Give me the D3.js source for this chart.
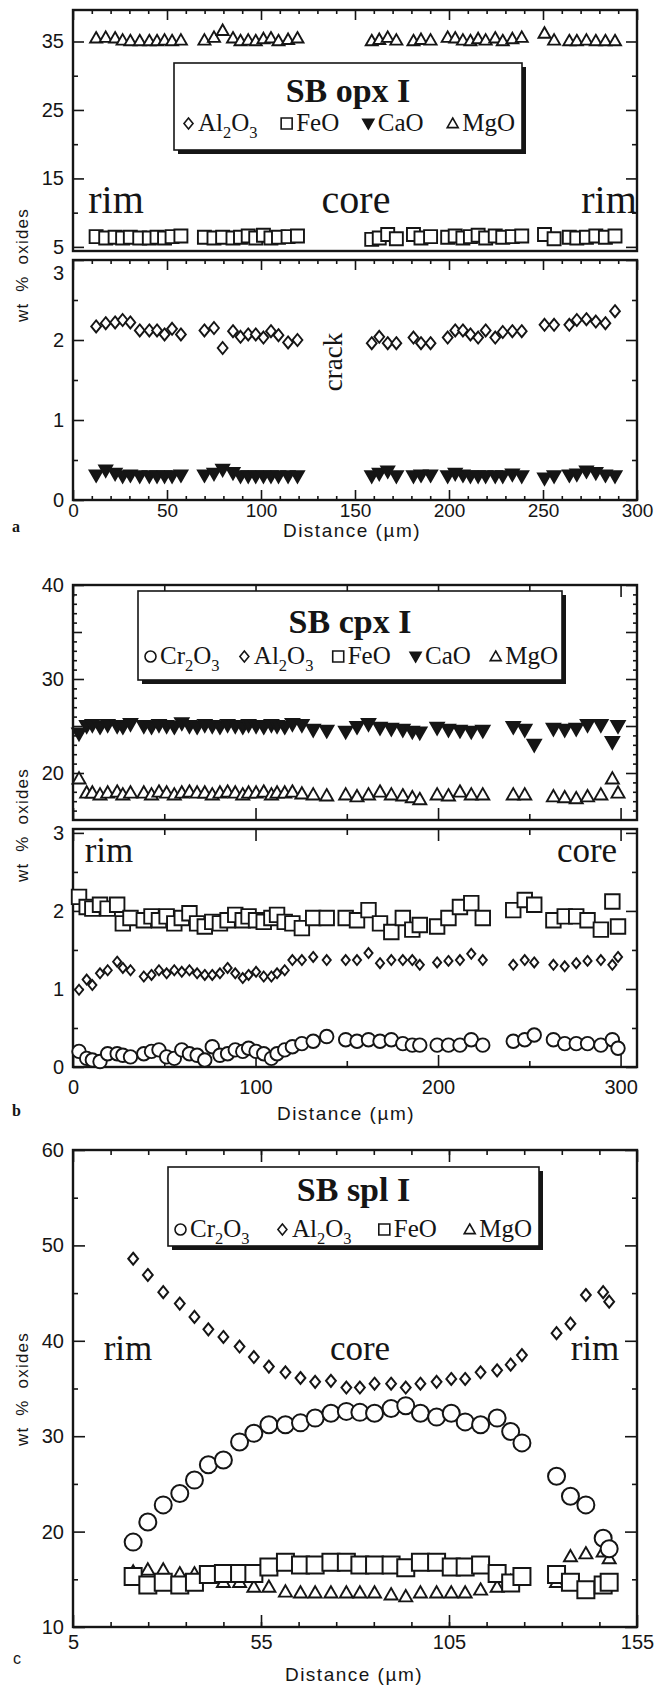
<!DOCTYPE html>
<html>
<head>
<meta charset="utf-8">
<script src="https://cdn.jsdelivr.net/npm/d3@7/dist/d3.min.js"></script>
<style>
  body { margin: 0; background: #fff; }
  svg { display: block; }
  .sans { font-family: "Liberation Sans", Arial, Helvetica, sans-serif; }
  .serif { font-family: "Liberation Serif", "Times New Roman", serif; }
</style>
</head>
<body>
<div id="chart"></div>
<script>
/* Microprobe traverses, wt % oxides vs distance: (a) SB opx I, (b) SB cpx I, (c) SB spl I */

// ---- (a) SB opx I ----
const opxDist = [12.3, 17.4, 22.4, 26.4, 30.5, 35.5, 40.6, 44.7, 48.7, 52.7, 57.4,
  69.9, 75.0, 79.6, 85.1, 89.1, 93.2, 97.2, 101.3, 105.3, 109.3, 114.4, 119.4,
  158.9, 162.9, 167.4, 172.0, 181.1, 185.1, 190.2, 199.3, 203.3, 207.4, 211.4, 215.5,
  219.5, 224.6, 228.6, 233.7, 238.7, 250.8, 255.9, 264.0, 268.0, 273.1, 278.1, 283.2, 288.3];
const opxAl2O3 = [2.17, 2.21, 2.22, 2.25, 2.22, 2.12, 2.12, 2.12, 2.07, 2.14, 2.07,
  2.12, 2.15, 1.90, 2.11, 2.04, 2.07, 2.07, 2.03, 2.11, 2.06, 1.97, 2.00,
  1.96, 2.04, 1.96, 1.96, 2.03, 1.96, 1.96, 2.03, 2.12, 2.12, 2.07, 2.03,
  2.12, 2.03, 2.10, 2.11, 2.11, 2.19, 2.19, 2.19, 2.25, 2.26, 2.23, 2.21, 2.36];
const opxFeO = [6.5, 6.3, 6.4, 6.3, 6.4, 6.3, 6.3, 6.4, 6.3, 6.5, 6.6,
  6.4, 6.3, 6.4, 6.3, 6.4, 6.6, 6.3, 6.7, 6.3, 6.4, 6.5, 6.6,
  6.1, 6.3, 6.8, 6.2, 6.8, 6.3, 6.5, 6.4, 6.6, 6.3, 6.5, 6.7,
  6.3, 6.6, 6.4, 6.5, 6.6, 6.8, 6.2, 6.4, 6.3, 6.4, 6.6, 6.4, 6.6];
const opxCaO = [0.31, 0.37, 0.33, 0.30, 0.31, 0.30, 0.30, 0.30, 0.30, 0.30, 0.31,
  0.31, 0.33, 0.38, 0.34, 0.30, 0.30, 0.30, 0.30, 0.30, 0.30, 0.30, 0.30,
  0.30, 0.33, 0.36, 0.30, 0.30, 0.31, 0.31, 0.30, 0.33, 0.31, 0.30, 0.30,
  0.30, 0.30, 0.30, 0.32, 0.30, 0.27, 0.30, 0.31, 0.32, 0.36, 0.34, 0.31, 0.30];
const opxMgO = [35.5, 35.6, 35.5, 35.2, 35.1, 35.1, 35.1, 35.1, 35.2, 35.1, 35.2,
  35.2, 35.6, 36.6, 35.5, 35.1, 35.2, 35.1, 35.4, 35.5, 35.1, 35.3, 35.5,
  35.1, 35.3, 35.6, 35.2, 35.1, 35.3, 35.2, 35.6, 35.5, 35.2, 35.1, 35.4,
  35.2, 35.5, 35.1, 35.4, 35.6, 36.2, 35.2, 35.1, 35.1, 35.2, 35.1, 35.1, 35.1];

// ---- (b) SB cpx I ----
const cpxDist = [3.3, 7.5, 10.6, 14.8, 19.0, 24.2, 27.3, 31.5, 38.8, 43.0,
  47.1, 51.3, 55.5, 59.6, 63.8, 68.0, 72.2, 76.3, 80.5, 84.7,
  88.9, 93.0, 96.2, 100.3, 104.5, 108.7, 111.8, 116.0, 120.2, 125.4,
  131.6, 139.0,
  149.4, 155.6, 161.9, 168.2, 174.4, 180.7, 185.9, 190.0,
  199.5, 205.7, 212.0, 218.2, 224.5,
  241.2, 247.5, 252.7,
  263.2, 269.4, 275.7, 281.9, 289.2, 295.5, 298.6];
const cpxCr2O3 = [0.20, 0.11, 0.09, 0.07, 0.17, 0.17, 0.15, 0.13, 0.17, 0.20,
  0.22, 0.13, 0.11, 0.22, 0.17, 0.15, 0.09, 0.26, 0.15, 0.17,
  0.22, 0.20, 0.24, 0.20, 0.17, 0.11, 0.17, 0.22, 0.26, 0.30,
  0.33, 0.39,
  0.35, 0.33, 0.35, 0.33, 0.35, 0.30, 0.28, 0.28,
  0.28, 0.28, 0.28, 0.35, 0.28,
  0.33, 0.35, 0.41,
  0.35, 0.30, 0.30, 0.30, 0.28, 0.35, 0.24];
const cpxAl2O3 = [0.99, 1.12, 1.05, 1.20, 1.24, 1.35, 1.27, 1.24, 1.16, 1.18,
  1.24, 1.20, 1.24, 1.22, 1.24, 1.20, 1.18, 1.18, 1.20, 1.27,
  1.20, 1.14, 1.18, 1.22, 1.16, 1.16, 1.20, 1.24, 1.37, 1.37,
  1.41, 1.37,
  1.37, 1.37, 1.46, 1.33, 1.37, 1.37, 1.37, 1.31,
  1.34, 1.36, 1.37, 1.45, 1.37,
  1.31, 1.37, 1.34,
  1.31, 1.29, 1.33, 1.36, 1.37, 1.31, 1.41];
const cpxFeO = [2.18, 2.05, 2.03, 2.08, 2.03, 2.08, 1.84, 1.91, 1.88, 1.93,
  1.88, 1.93, 1.84, 1.91, 1.97, 1.84, 1.80, 1.86, 1.84, 1.88,
  1.95, 1.88, 1.93, 1.88, 1.86, 1.91, 1.95, 1.86, 1.84, 1.78,
  1.91, 1.91,
  1.91, 1.88, 2.01, 1.84, 1.73, 1.91, 1.76, 1.82,
  1.80, 1.91, 2.05, 2.10, 1.91,
  2.01, 2.14, 2.08,
  1.88, 1.93, 1.93, 1.88, 1.76, 2.12, 1.80];
const cpxCaO = [24.2, 25.0, 25.1, 24.9, 25.1, 25.0, 24.9, 25.2, 25.0, 24.9,
  25.1, 25.0, 24.9, 25.3, 25.0, 24.9, 25.1, 25.0, 24.9, 25.1,
  25.0, 24.9, 25.1, 25.0, 24.9, 25.1, 25.0, 24.9, 25.2, 25.1,
  24.6, 24.5,
  24.4, 24.9, 25.2, 24.8, 24.7, 24.6, 24.4, 24.3,
  24.8, 24.6, 24.5, 24.4, 24.5,
  24.9, 24.6, 23.0,
  24.7, 24.6, 24.7, 25.1, 25.1, 23.3, 25.0];
const cpxMgO = [19.4, 17.9, 17.9, 17.7, 17.9, 18.0, 17.7, 17.9, 17.9, 17.7,
  18.0, 17.9, 17.7, 17.9, 18.0, 17.9, 17.9, 17.7, 17.9, 18.0,
  17.9, 17.7, 17.9, 17.9, 18.0, 17.7, 17.9, 17.9, 18.0, 17.8,
  17.7, 17.6,
  17.7, 17.5, 17.7, 18.0, 17.7, 17.6, 17.4, 17.2,
  17.7, 17.6, 18.0, 17.7, 17.7,
  17.7, 17.7, null,
  17.5, 17.4, 17.3, 17.5, 17.7, 19.4, 17.9];

// ---- (c) SB spl I ----
const splDist = [21.0, 24.9, 29.0, 33.4, 37.3, 41.0, 45.0, 49.3, 53.1, 57.1,
  61.5, 65.5, 69.4, 73.6, 77.7, 81.3, 85.2, 89.6, 93.5, 97.4,
  101.7, 105.6, 109.3, 113.4, 117.8, 121.4, 124.4,
  133.6, 137.3, 141.4, 146.0, 147.6];
const splCr2O3 = [18.9, 21.0, 22.8, 24.0, 25.4, 27.0, 27.5, 29.4, 30.3, 31.2,
  31.2, 31.4, 31.9, 32.4, 32.6, 32.5, 32.4, 32.9, 33.2, 32.4,
  32.0, 32.4, 31.5, 31.2, 31.9, 30.5, 29.3,
  25.8, 23.7, 22.8, 19.3, 18.2];
const splAl2O3 = [48.6, 46.9, 45.1, 43.9, 42.5, 41.2, 40.4, 39.4, 38.3, 37.3,
  36.7, 36.1, 35.7, 35.8, 35.1, 35.1, 35.5, 35.5, 35.1, 35.5,
  35.7, 36.0, 36.0, 36.7, 36.9, 37.5, 38.5,
  40.8, 41.8, 44.8, 45.1, 44.1];
const splFeO = [15.3, 14.4, 14.7, 14.4, 14.7, 15.5, 15.6, 15.6, 15.6, 16.3,
  16.8, 16.5, 16.5, 16.8, 16.8, 16.5, 16.5, 16.5, 16.2, 16.8,
  16.8, 16.3, 16.3, 16.5, 15.6, 14.6, 15.3,
  15.5, 14.7, 13.9, 14.4, 14.7];
const splMgO = [15.8, 16.0, 16.0, 15.6, 15.6, 15.3, 14.7, 14.7, 14.2, 14.2,
  13.7, 13.6, 13.6, 13.6, 13.6, 13.6, 13.6, 13.4, 13.2, 13.6,
  13.6, 13.6, 13.6, 13.9, 14.2, 14.8, 15.2,
  14.7, 17.4, 17.7, 17.9, 17.2];

// tick labels
const opxUpperLabels = [5, 15, 25, 35];
const opxLowerLabels = [0, 1, 2, 3];
const opxXLabels = [0, 50, 100, 150, 200, 250, 300];
const cpxUpperLabels = [20, 30, 40];
const cpxLowerLabels = [0, 1, 2, 3];
const cpxXLabels = [0, 100, 200, 300];
const splYLabels = [10, 20, 30, 40, 50, 60];
const splXLabels = [5, 55, 105, 155];

// ---------------------------------------------------------------
const width = 655, height = 1686;
const ink = '#151515';
const plotL = 73, plotR = 637;

let svg = d3.select('#chart').append('svg')
  .attr('width', width).attr('height', height)
  .attr('viewBox', [0, 0, width, height]);

// marker outline for each oxide, s = size in px
const markerType = {Cr2O3: 'circle', Al2O3: 'diamond', FeO: 'square', CaO: 'down', MgO: 'up'};
function shape(type, s) {
  const h = s / 2;
  if (type === 'circle') return `M${h},0A${h},${h} 0 1,1 ${-h},0A${h},${h} 0 1,1 ${h},0Z`;
  if (type === 'square') return `M${-h},${-h}H${h}V${h}H${-h}Z`;
  if (type === 'diamond') return `M0,${-h}L${h * 0.82},0L0,${h}L${-h * 0.82},0Z`;
  if (type === 'up') return `M0,${-h * 1.0}L${h},${h * 0.75}L${-h},${h * 0.75}Z`;
  return `M0,${h * 1.0}L${h},${-h * 0.75}L${-h},${-h * 0.75}Z`;
}

function scatter(x, y, xs, ys, oxide, s, sw) {
  const type = markerType[oxide];
  const pts = xs.map((d, i) => ({x: d, v: ys[i]})).filter(d => d.v != null);
  svg.append('g').selectAll('path')
    .data(pts)
    .join('path')
    .attr('d', shape(type, s))
    .attr('transform', d => `translate(${x(d.x)},${y(d.v)})`)
    .attr('fill', type === 'down' ? ink : '#fff')
    .attr('stroke', ink)
    .attr('stroke-width', sw || 1.9)
    .attr('stroke-linejoin', 'miter');
}

// one set of inward ticks; labels optional
function ticks(axisFn, scale, values, len, pos, labels, pad, fs) {
  const horiz = axisFn === d3.axisTop || axisFn === d3.axisBottom;
  const ax = axisFn(scale).tickValues(values).tickSize(-len).tickPadding(pad || 9)
    .tickFormat(labels ? d3.format('d') : '');
  const g = svg.append('g')
    .attr('transform', horiz ? `translate(0,${pos})` : `translate(${pos},0)`)
    .call(ax);
  g.select('.domain').remove();
  g.selectAll('line').attr('stroke', ink).attr('stroke-width', 1.6);
  g.selectAll('text').attr('class', 'sans').attr('font-size', fs || 20).attr('fill', ink);
  return g;
}

function frame(x, y) {
  const [x0, x1] = x.range(), [y0, y1] = y.range();
  svg.append('rect')
    .attr('x', x0).attr('y', Math.min(y0, y1))
    .attr('width', x1 - x0).attr('height', Math.abs(y0 - y1))
    .attr('fill', 'none').attr('stroke', ink).attr('stroke-width', 2.4);
}

function chem(t, name, fs) {
  let sub = false;
  name.match(/[A-Za-z]+|\d+/g).forEach(p => {
    const ts = t.append('tspan').text(p);
    if (/\d/.test(p)) { ts.attr('font-size', fs * 0.66).attr('dy', fs * 0.26); sub = true; }
    else if (sub) { ts.attr('dy', -fs * 0.26); sub = false; }
  });
}

function legend(box, title, oxides, rowX0, rowX1, symSize) {
  const w = box.x1 - box.x0, h = box.y1 - box.y0;
  svg.append('rect').attr('x', box.x0 + 4).attr('y', box.y0 + 4)
    .attr('width', w).attr('height', h).attr('fill', ink);
  svg.append('rect').attr('x', box.x0).attr('y', box.y0)
    .attr('width', w).attr('height', h)
    .attr('fill', '#fff').attr('stroke', ink).attr('stroke-width', 1.6);
  svg.append('text').attr('class', 'serif')
    .attr('x', (box.x0 + box.x1) / 2).attr('y', box.titleY)
    .attr('text-anchor', 'middle').attr('font-weight', 'bold').attr('font-size', 34)
    .attr('fill', ink).text(title);

  const fs = 25;
  const items = oxides.map(ox => {
    const g = svg.append('g');
    const t = g.append('text').attr('class', 'serif').attr('font-size', fs).attr('fill', ink)
      .attr('x', symSize + 4).attr('y', 0);
    chem(t, ox, fs);
    g.append('path').attr('d', shape(markerType[ox], symSize))
      .attr('transform', `translate(${symSize / 2},${-fs * 0.3})`)
      .attr('fill', markerType[ox] === 'down' ? ink : '#fff')
      .attr('stroke', ink).attr('stroke-width', 1.6);
    return {g, w: symSize + 4 + t.node().getComputedTextLength()};
  });
  const total = d3.sum(items, d => d.w);
  const gap = (rowX1 - rowX0 - total) / (items.length - 1);
  let xpos = rowX0;
  items.forEach(it => {
    it.g.attr('transform', `translate(${xpos},${box.rowY})`);
    xpos += it.w + gap;
  });
}

function label(txt, x, y, fs, opts) {
  const t = svg.append('text').attr('class', (opts && opts.cls) || 'serif')
    .attr('x', x).attr('y', y).attr('font-size', fs).attr('fill', ink)
    .attr('text-anchor', (opts && opts.anchor) || 'middle').text(txt);
  if (opts && opts.rotate) t.attr('transform', `rotate(-90,${x},${y})`);
  if (opts && opts.bold) t.attr('font-weight', 'bold');
  if (opts && opts.ls) t.attr('letter-spacing', opts.ls);
  if (opts && opts.ws) t.attr('word-spacing', opts.ws);
  return t;
}

// ================= panel a =================
{
  const x = d3.scaleLinear().domain([0, 300]).range([plotL, plotR]);
  const yU = d3.scaleLinear().domain([4.4, 39.6]).range([251, 10]);
  const yL = d3.scaleLinear().domain([0, 3]).range([500, 260]);
  const xMinor = d3.range(0, 301, 10).filter(v => v % 50);

  frame(x, yU);
  frame(x, yL);

  // upper y
  ticks(d3.axisLeft, yU, opxUpperLabels, 11, plotL, true, 9);
  ticks(d3.axisLeft, yU, [10, 20, 30], 5, plotL, false);
  ticks(d3.axisRight, yU, opxUpperLabels, 11, plotR, false);
  ticks(d3.axisRight, yU, [10, 20, 30], 5, plotR, false);
  ticks(d3.axisTop, x, opxXLabels, 10, yU.range()[1], false);
  ticks(d3.axisTop, x, xMinor, 4, yU.range()[1], false);
  // lower y
  const gl = ticks(d3.axisLeft, yL, opxLowerLabels, 11, plotL, true, 9);
  gl.selectAll('text').filter(d => d === 3).attr('dy', '0.95em');
  ticks(d3.axisLeft, yL, [0.5, 1.5, 2.5], 5, plotL, false);
  ticks(d3.axisRight, yL, opxLowerLabels, 11, plotR, false);
  ticks(d3.axisRight, yL, [0.5, 1.5, 2.5], 5, plotR, false);
  ticks(d3.axisTop, x, opxXLabels, 10, yL.range()[1], false);
  ticks(d3.axisTop, x, xMinor, 4, yL.range()[1], false);
  ticks(d3.axisBottom, x, opxXLabels, 10, yL.range()[0], true, 3, 19);
  ticks(d3.axisBottom, x, xMinor, 4, yL.range()[0], false);

  scatter(x, yU, opxDist, opxMgO, 'MgO', 12);
  scatter(x, yU, opxDist, opxFeO, 'FeO', 13);
  scatter(x, yL, opxDist, opxAl2O3, 'Al2O3', 12, 1.9);
  scatter(x, yL, opxDist, opxCaO, 'CaO', 13);

  legend({x0: 174, x1: 522, y0: 63, y1: 150, titleY: 102, rowY: 131},
    'SB opx I', ['Al2O3', 'FeO', 'CaO', 'MgO'], 183, 515, 11);

  label('rim', 116, 213, 40);
  label('core', 356, 213, 40);
  label('rim', 609, 213, 40);
  label('crack', 342, 362, 27, {rotate: true});
  label('wt % oxides', 28, 265, 17, {cls: 'sans', rotate: true, ls: 1.2, ws: 5});
  label('Distance (µm)', 352, 537, 19, {cls: 'sans', ls: 1.5});
  label('a', 12, 532, 16, {bold: true, anchor: 'start'});
}

// ================= panel b =================
{
  const x = d3.scaleLinear().domain([0, 309]).range([plotL, plotR]);
  const yU = d3.scaleLinear().domain([15, 40]).range([820, 585]);
  const yL = d3.scaleLinear().domain([0, 3.05]).range([1067, 829]);
  const xMaj = [0, 100, 200, 300], xMin = [50, 150, 250];
  const yUMinor = d3.range(16, 40, 1).filter(v => v % 5);

  frame(x, yU);
  frame(x, yL);

  ticks(d3.axisLeft, yU, cpxUpperLabels, 11, plotL, true, 9);
  ticks(d3.axisLeft, yU, [25, 35], 9, plotL, false);
  ticks(d3.axisLeft, yU, yUMinor, 4, plotL, false);
  ticks(d3.axisRight, yU, [20, 25, 30, 35, 40], 11, plotR, false);
  ticks(d3.axisRight, yU, yUMinor, 4, plotR, false);
  ticks(d3.axisTop, x, xMaj, 12, yU.range()[1], false);
  ticks(d3.axisTop, x, xMin, 6, yU.range()[1], false);
  ticks(d3.axisBottom, x, xMaj, 12, yU.range()[0], false);
  ticks(d3.axisBottom, x, xMin, 6, yU.range()[0], false);

  ticks(d3.axisLeft, yL, cpxLowerLabels, 11, plotL, true, 9);
  ticks(d3.axisLeft, yL, [0.5, 1.5, 2.5], 5, plotL, false);
  ticks(d3.axisRight, yL, cpxLowerLabels, 11, plotR, false);
  ticks(d3.axisRight, yL, [0.5, 1.5, 2.5], 5, plotR, false);
  ticks(d3.axisTop, x, xMaj, 12, yL.range()[1], false);
  ticks(d3.axisTop, x, xMin, 6, yL.range()[1], false);
  ticks(d3.axisBottom, x, cpxXLabels, 12, yL.range()[0], true, 13);
  ticks(d3.axisBottom, x, xMin, 6, yL.range()[0], false);

  scatter(x, yU, cpxDist, cpxMgO, 'MgO', 13);
  scatter(x, yU, cpxDist, cpxCaO, 'CaO', 13.5);
  scatter(x, yL, cpxDist, cpxFeO, 'FeO', 14.5);
  scatter(x, yL, cpxDist, cpxAl2O3, 'Al2O3', 10, 1.9);
  scatter(x, yL, cpxDist, cpxCr2O3, 'Cr2O3', 13.5);

  legend({x0: 138, x1: 562, y0: 591, y1: 680, titleY: 633, rowY: 664},
    'SB cpx I', ['Cr2O3', 'Al2O3', 'FeO', 'CaO', 'MgO'], 145, 558, 11);

  label('rim', 109, 862, 35);
  label('core', 587, 862, 35);
  label('wt % oxides', 28, 825, 17, {cls: 'sans', rotate: true, ls: 1.2, ws: 5});
  label('Distance (µm)', 346, 1120, 19, {cls: 'sans', ls: 1.5});
  label('b', 12, 1116, 16, {bold: true, anchor: 'start'});
}

// ================= panel c =================
{
  const x = d3.scaleLinear().domain([5, 155]).range([plotL, plotR]);
  const y = d3.scaleLinear().domain([10, 60]).range([1627, 1150]);
  const xMinor = d3.range(15, 155, 10);
  const yMinor = [15, 25, 35, 45, 55];

  frame(x, y);
  ticks(d3.axisLeft, y, splYLabels, 12, plotL, true, 9);
  ticks(d3.axisLeft, y, yMinor, 5, plotL, false);
  ticks(d3.axisRight, y, splYLabels, 12, plotR, false);
  ticks(d3.axisRight, y, yMinor, 5, plotR, false);
  ticks(d3.axisTop, x, splXLabels, 12, y.range()[1], false);
  ticks(d3.axisTop, x, xMinor, 5, y.range()[1], false);
  ticks(d3.axisBottom, x, splXLabels, 12, y.range()[0], true, 8);
  ticks(d3.axisBottom, x, xMinor, 5, y.range()[0], false);

  scatter(x, y, splDist, splMgO, 'MgO', 13);
  scatter(x, y, splDist, splFeO, 'FeO', 17, 2);
  scatter(x, y, splDist, splAl2O3, 'Al2O3', 12, 2);
  scatter(x, y, splDist, splCr2O3, 'Cr2O3', 17, 2);

  legend({x0: 168, x1: 539, y0: 1167, y1: 1246, titleY: 1201, rowY: 1237},
    'SB spl I', ['Cr2O3', 'Al2O3', 'FeO', 'MgO'], 175, 532, 11);

  label('rim', 128, 1360, 35);
  label('core', 360, 1360, 35);
  label('rim', 595, 1360, 35);
  label('wt % oxides', 28, 1389, 17, {cls: 'sans', rotate: true, ls: 1.2, ws: 5});
  label('Distance (µm)', 354, 1681, 19, {cls: 'sans', ls: 1.5});
  label('c', 13, 1664, 16, {anchor: 'start', cls: 'sans'});
}
</script>
</body>
</html>
